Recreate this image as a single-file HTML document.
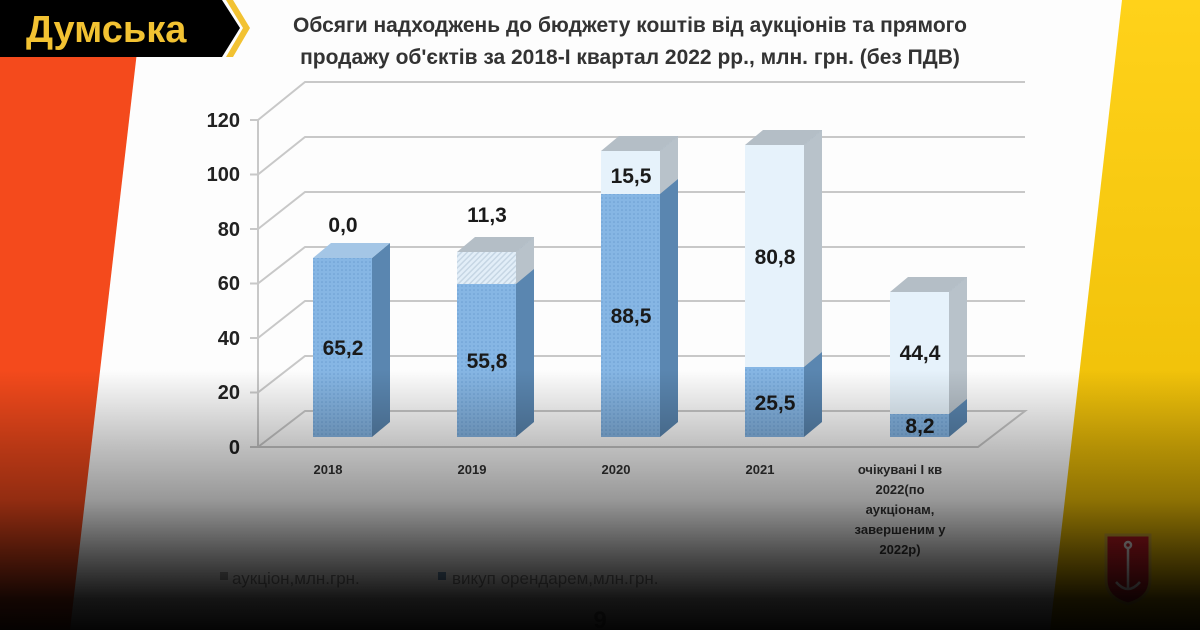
<!DOCTYPE html>
<html><head><meta charset="utf-8"><style>
html,body{margin:0;padding:0;width:1200px;height:630px;overflow:hidden;background:#fff}
svg{display:block}
text{font-family:"Liberation Sans","DejaVu Sans",sans-serif}
</style></head><body>
<svg width="1200" height="630" viewBox="0 0 1200 630" xmlns="http://www.w3.org/2000/svg">
<defs>
<linearGradient id="shade" x1="0" y1="0" x2="0" y2="1">
<stop offset="0" stop-color="#000" stop-opacity="0"/>
<stop offset="0.3" stop-color="#000" stop-opacity="0.25"/>
<stop offset="0.5" stop-color="#000" stop-opacity="0.4"/>
<stop offset="0.69" stop-color="#000" stop-opacity="0.67"/>
<stop offset="0.88" stop-color="#000" stop-opacity="0.92"/>
<stop offset="1" stop-color="#000" stop-opacity="0.98"/>
</linearGradient>
<linearGradient id="yel" x1="0" y1="0" x2="0" y2="1">
<stop offset="0" stop-color="#ffd21a"/><stop offset="1" stop-color="#e8b800"/>
</linearGradient>
<pattern id="dots" width="4" height="4" patternUnits="userSpaceOnUse">
<rect width="4" height="4" fill="#86b6e4"/><circle cx="2" cy="2" r="0.8" fill="#6c9fd2"/>
</pattern>
<pattern id="hatch" width="4" height="4" patternUnits="userSpaceOnUse" patternTransform="rotate(45)">
<rect width="4" height="4" fill="#e2eef8"/><rect width="1.5" height="4" fill="#c6d6e4"/>
</pattern>
</defs>
<rect width="1200" height="630" fill="#fdfdfd"/>
<polygon points="0,0 143,0 70,630 0,630" fill="#f44a1c"/>
<polygon points="1122,0 1200,0 1200,630 1050,630" fill="url(#yel)"/>

<g stroke="#c8c8c8" stroke-width="2" fill="none">
<polyline points="258,120 305,82 1025,82"/>
<polyline points="258,174.5 305,137 1025,137"/>
<polyline points="258,229 305,192 1025,192"/>
<polyline points="258,283.5 305,247 1025,247"/>
<polyline points="258,338 305,301 1025,301"/>
<polyline points="258,392.5 305,356 1025,356"/>
<polygon points="258,447 305,411 1025,411 978,447"/>
<line x1="258" y1="120" x2="258" y2="447"/>
</g>
<g stroke="#c8c8c8" stroke-width="2">
<line x1="250" y1="120" x2="258" y2="120"/><line x1="250" y1="174.5" x2="258" y2="174.5"/>
<line x1="250" y1="229" x2="258" y2="229"/><line x1="250" y1="283.5" x2="258" y2="283.5"/>
<line x1="250" y1="338" x2="258" y2="338"/><line x1="250" y1="392.5" x2="258" y2="392.5"/>
<line x1="250" y1="447" x2="258" y2="447"/>
</g>
<g font-size="20" font-weight="bold" fill="#222" text-anchor="end">
<text x="240" y="127">120</text><text x="240" y="181">100</text><text x="240" y="236">80</text>
<text x="240" y="290">60</text><text x="240" y="345">40</text><text x="240" y="399">20</text><text x="240" y="454">0</text>
</g>

<g>
<polygon points="372,258 390,243 390,422 372,437" fill="#5a86b0"/>
<polygon points="313,258 331,243 390,243 372,258" fill="#a4c6e6"/>
<rect x="313" y="258" width="59" height="179" fill="url(#dots)"/>
<polygon points="516,252 534,237 534,422 516,437" fill="#5a86b0"/>
<polygon points="516,252 534,237 534,269 516,284" fill="#b8c2ca"/>
<polygon points="457,252 475,237 534,237 516,252" fill="#b4bec6"/>
<rect x="457" y="252" width="59" height="32" fill="url(#hatch)"/>
<rect x="457" y="284" width="59" height="153" fill="url(#dots)"/>
<polygon points="660,151 678,136 678,422 660,437" fill="#5a86b0"/>
<polygon points="660,151 678,136 678,179 660,194" fill="#b8c2ca"/>
<polygon points="601,151 619,136 678,136 660,151" fill="#b4bec6"/>
<rect x="601" y="151" width="59" height="43" fill="#e6f2fb"/>
<rect x="601" y="194" width="59" height="243" fill="url(#dots)"/>
<polygon points="804,145 822,130 822,422 804,437" fill="#5a86b0"/>
<polygon points="804,145 822,130 822,352 804,367" fill="#b8c2ca"/>
<polygon points="745,145 763,130 822,130 804,145" fill="#b4bec6"/>
<rect x="745" y="145" width="59" height="222" fill="#e6f2fb"/>
<rect x="745" y="367" width="59" height="70" fill="url(#dots)"/>
<polygon points="949,292 967,277 967,422 949,437" fill="#5a86b0"/>
<polygon points="949,292 967,277 967,399 949,414" fill="#b8c2ca"/>
<polygon points="890,292 908,277 967,277 949,292" fill="#b4bec6"/>
<rect x="890" y="292" width="59" height="122" fill="#e6f2fb"/>
<rect x="890" y="414" width="59" height="23" fill="url(#dots)"/>
</g>

<g font-size="21" font-weight="bold" fill="#1a1a1a" text-anchor="middle">
<text x="343" y="232">0,0</text>
<text x="343" y="355">65,2</text>
<text x="487" y="222">11,3</text>
<text x="487" y="368">55,8</text>
<text x="631" y="183">15,5</text>
<text x="631" y="323">88,5</text>
<text x="775" y="264">80,8</text>
<text x="775" y="410">25,5</text>
<text x="920" y="360">44,4</text>
<text x="920" y="433">8,2</text>
</g>

<g font-size="13" font-weight="bold" fill="#333" text-anchor="middle">
<text x="328" y="474">2018</text><text x="472" y="474">2019</text>
<text x="616" y="474">2020</text><text x="760" y="474">2021</text>
<text x="900" y="474">очікувані І кв</text>
<text x="900" y="494">2022(по</text>
<text x="900" y="514">аукціонам,</text>
<text x="900" y="534">завершеним у</text>
<text x="900" y="554">2022р)</text>
</g>

<g font-size="21" font-weight="bold" fill="#333" text-anchor="middle">
<text x="630" y="32">Обсяги надходжень до бюджету коштів від аукціонів та прямого</text>
<text x="630" y="64">продажу об'єктів за 2018-І квартал 2022 рр., млн. грн. (без ПДВ)</text>
</g>

<g font-size="17" fill="#888">
<rect x="220" y="572" width="8" height="8" fill="#aaa"/>
<text x="232" y="584">аукціон,млн.грн.</text>
<rect x="438" y="572" width="8" height="8" fill="#6f95b8"/>
<text x="452" y="584">викуп орендарем,млн.грн.</text>
<text x="600" y="628" font-size="24" font-weight="bold" text-anchor="middle">9</text>
</g>

<path d="M1106,535 L1150,535 L1150,580 Q1150,598 1128,604 Q1106,598 1106,580 Z" fill="#c01a22" stroke="#d0a830" stroke-width="3"/>
<g stroke="#e8e0e0" stroke-width="2.5" fill="none">
<line x1="1128" y1="548" x2="1128" y2="590"/><circle cx="1128" cy="545" r="3"/>
<path d="M1116,582 Q1128,596 1140,582"/>
</g>

<rect x="0" y="370" width="1200" height="260" fill="url(#shade)"/>

<polygon points="0,0 222,0 240,28 222,57 0,57" fill="#000"/>
<polygon points="226,0 233,0 250,28 233,57 226,57 243,28" fill="#f2c232"/>
<text x="26" y="42" font-size="38" font-weight="bold" fill="#f2c232" font-family="Liberation Serif,serif">Думська</text>
</svg>
</body></html>
